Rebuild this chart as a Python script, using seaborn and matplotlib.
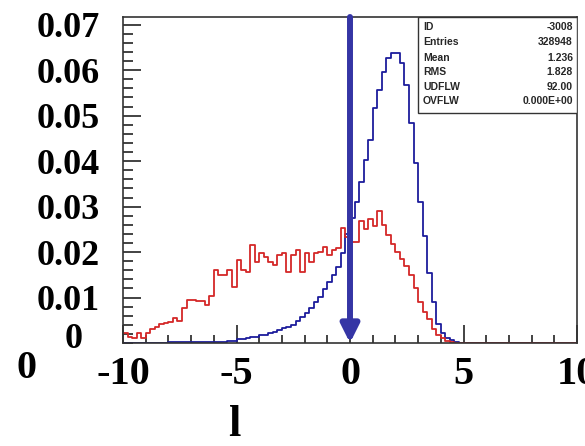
import numpy as np
import pandas as pd
import matplotlib
matplotlib.use("Agg")
import matplotlib.pyplot as plt
from matplotlib.patches import Rectangle
import seaborn as sns

# ---- data (100 bins of width 0.2 from -10 to 10) ----
bin_edges = np.linspace(-10, 10, 101)
bin_centers = 0.5 * (bin_edges[:-1] + bin_edges[1:])

red_values = [
    0.0021, 0.0013, 0.0012, 0.0023, 0.0010, 0.0021, 0.0030, 0.0036, 0.0042, 0.0043,
    0.0047, 0.0054, 0.0048, 0.0078, 0.0095, 0.0095, 0.0092, 0.0092, 0.0084, 0.0103,
    0.0160, 0.0149, 0.0149, 0.0160, 0.0124, 0.0182, 0.0160, 0.0157, 0.0215, 0.0179,
    0.0197, 0.0190, 0.0179, 0.0171, 0.0193, 0.0197, 0.0157, 0.0193, 0.0204, 0.0157,
    0.0197, 0.0179, 0.0197, 0.0201, 0.0212, 0.0193, 0.0204, 0.0208, 0.0252, 0.0234,
    0.0222, 0.0222, 0.0268, 0.0250, 0.0272, 0.0258, 0.0290, 0.0260, 0.0237, 0.0218,
    0.0200, 0.0185, 0.0170, 0.0150, 0.0120, 0.0090, 0.0068, 0.0052, 0.0030, 0.0018,
    0.0010, 0.0005, 0.0002, 0.0, 0.0, 0.0, 0.0, 0.0, 0.0, 0.0,
    0.0, 0.0, 0.0, 0.0, 0.0, 0.0, 0.0, 0.0, 0.0, 0.0,
    0.0, 0.0, 0.0, 0.0, 0.0, 0.0, 0.0, 0.0, 0.0, 0.0,
]

blue_values = [
    0.0, 0.0, 0.0, 0.0, 0.0, 0.0, 0.0, 0.0, 0.0, 0.0,
    0.0002, 0.0002, 0.0002, 0.0002, 0.0002, 0.0002, 0.0002, 0.0002, 0.0003, 0.0003,
    0.0003, 0.0003, 0.0003, 0.0004, 0.0005, 0.0008, 0.0008, 0.0010, 0.0013, 0.0013,
    0.0018, 0.0018, 0.0023, 0.0025, 0.0029, 0.0034, 0.0036, 0.0040, 0.0049, 0.0058,
    0.0067, 0.0078, 0.0091, 0.0102, 0.0118, 0.0135, 0.0149, 0.0168, 0.0197, 0.0240,
    0.0275, 0.0311, 0.0355, 0.0402, 0.0446, 0.0516, 0.0556, 0.0596, 0.0626, 0.0638,
    0.0638, 0.0615, 0.0567, 0.0483, 0.0395, 0.0310, 0.0235, 0.0155, 0.0090, 0.0042,
    0.0021, 0.0012, 0.0006, 0.0002, 0.0, 0.0, 0.0, 0.0, 0.0, 0.0,
    0.0, 0.0, 0.0, 0.0, 0.0, 0.0, 0.0, 0.0, 0.0, 0.0,
    0.0, 0.0, 0.0, 0.0, 0.0, 0.0, 0.0, 0.0, 0.0, 0.0,
]

x_ticks = [-10, -5, 0, 5, 10]
x_tick_labels = ["-10", "-5", "0", "5", "10"]
y_ticks = [0.01, 0.02, 0.03, 0.04, 0.05, 0.06, 0.07]
y_tick_labels = ["0.01", "0.02", "0.03", "0.04", "0.05", "0.06", "0.07"]
x_label = "l"

stats_names = ["ID", "Entries", "Mean", "RMS", "UDFLW", "OVFLW"]
stats_values = ["-3008", "328948", "1.236", "1.828", "92.00", "0.000E+00"]

# ---- figure ----
sns.set_theme(style="white")
plt.rcParams["font.family"] = ["Liberation Serif", "DejaVu Serif"]

W, H = 585, 446
fig = plt.figure(figsize=(W / 100, H / 100), dpi=100)
fig.patch.set_facecolor("white")
ax_l, ax_r, ax_t, ax_b = 123, 577, 17, 343
ax = fig.add_axes([ax_l / W, 1 - ax_b / H, (ax_r - ax_l) / W, (ax_b - ax_t) / H])
ax.set_facecolor("white")

blue_df = pd.DataFrame({"x": bin_centers, "w": blue_values})
red_df = pd.DataFrame({"x": bin_centers, "w": red_values})

sns.histplot(data=blue_df, x="x", weights="w", binwidth=0.2, binrange=(-10, 10),
             element="step", fill=False, color="#1c1c9c", linewidth=1.3, ax=ax)
sns.histplot(data=red_df, x="x", weights="w", binwidth=0.2, binrange=(-10, 10),
             element="step", fill=False, color="#d42828", linewidth=1.3, ax=ax)

ymax = 0.0717
ax.set_xlim(-10, 10)
ax.set_ylim(0, ymax)
ax.set_xlabel("")
ax.set_ylabel("")

ax.set_xticks(x_ticks)
ax.set_xticklabels(x_tick_labels)
ax.set_xticks(np.arange(-10, 11, 1), minor=True)
ax.set_yticks(y_ticks)
ax.set_yticklabels(y_tick_labels)
ax.set_yticks(np.arange(0, 0.0717, 0.002), minor=True)

ax.tick_params(axis="x", which="major", direction="in", length=13, width=1.2,
               color="#222222", labelsize=29, pad=9, top=False, bottom=True)
ax.tick_params(axis="x", which="minor", direction="in", length=6, width=1.2,
               color="#222222", top=False, bottom=True)
ax.tick_params(axis="y", which="major", direction="in", length=13, width=1.2,
               color="#222222", labelsize=26, pad=17, left=True, right=False)
ax.tick_params(axis="y", which="minor", direction="in", length=7, width=1.2,
               color="#222222", left=True, right=False)
for lab in ax.get_xticklabels() + ax.get_yticklabels():
    lab.set_fontweight("bold")
    lab.set_color("black")

for sp in ax.spines.values():
    sp.set_visible(True)
    sp.set_color("#333333")
    sp.set_linewidth(1.2)

# zero label of y axis (drawn offset, as in the reference)
fig.text(74 / W, 1 - 339 / H, "0", ha="center", va="center", fontsize=26,
         fontweight="bold", color="black")
# stray label at left edge
fig.text(27 / W, 1 - 369 / H, "0", ha="center", va="center", fontsize=29,
         fontweight="bold", color="black")
# x axis title
fig.text(234 / W, 1 - 425 / H, x_label, ha="center", va="center", fontsize=32,
         fontweight="bold", color="black")

# arrow at x = 0
ax.annotate("", xy=(0, 0), xytext=(0, ymax), xycoords="data",
            arrowprops=dict(arrowstyle="-|>,head_length=0.9,head_width=0.45",
                            lw=4.3, color="#3535a5", shrinkA=0, shrinkB=0),
            zorder=10, annotation_clip=False)

# statistics box
bx0 = (418 - ax_l) / (ax_r - ax_l)
by0 = (ax_b - 113) / (ax_b - ax_t)
ax.add_patch(Rectangle((bx0, by0), 1 - bx0, 1 - by0, transform=ax.transAxes,
                       facecolor="white", edgecolor="#333333", linewidth=1.0,
                       zorder=11))
row_y = [26.7, 42, 57.7, 72, 86.7, 101.5]
for name, val, yy in zip(stats_names, stats_values, row_y):
    ya = (ax_b - yy) / (ax_b - ax_t)
    ax.text((423 - ax_l) / (ax_r - ax_l), ya, name, transform=ax.transAxes,
            ha="left", va="center", fontsize=7.5, fontweight="bold",
            family=["Liberation Sans", "DejaVu Sans"], zorder=12)
    ax.text((573 - ax_l) / (ax_r - ax_l), ya, val, transform=ax.transAxes,
            ha="right", va="center", fontsize=7.5, fontweight="bold",
            family=["Liberation Sans", "DejaVu Sans"], zorder=12)

fig.savefig("out.png", dpi=100, facecolor="white")
